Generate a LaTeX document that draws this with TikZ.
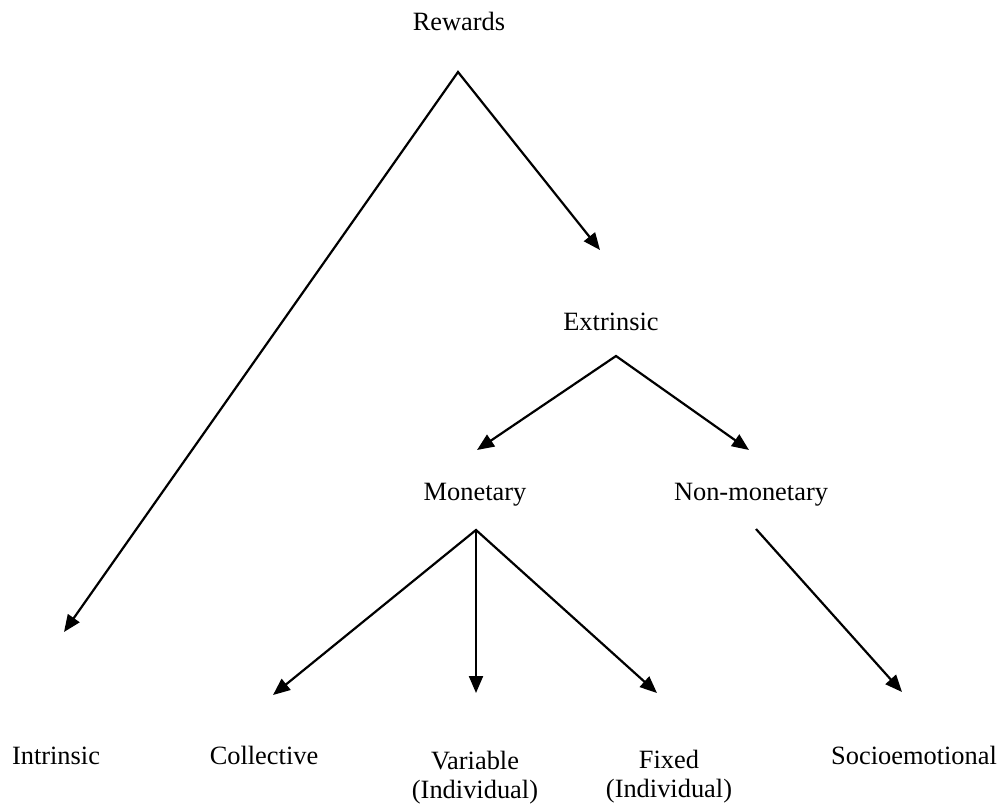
\documentclass[tikz,border=0pt]{standalone}
\usepackage{fontspec}
\setmainfont{Liberation Serif}
\usetikzlibrary{arrows.meta}
\begin{document}
\begin{tikzpicture}[x=1pt,y=-1pt,
  lbl/.style={anchor=base,inner sep=0pt,align=center,font=\fontsize{26.4}{29}\selectfont},
  conn/.style={line width=2.2pt,line join=miter},
  tipA/.style={-{Triangle[length=17pt,width=14pt]}},
  tipB/.style={{Triangle[length=17pt,width=14pt]}-{Triangle[length=17pt,width=14pt]}}]
\useasboundingbox (0,0) rectangle (1000,805);
% labels
\node[lbl] (rew) at (459,31) {Rewards};
\node[lbl] (ext) at (611,330) {Extrinsic};
\node[lbl] (mon) at (475,500) {Monetary};
\node[lbl] (non) at (751,500) {Non-monetary};
\node[lbl] (int) at (56,764) {Intrinsic};
\node[lbl] (col) at (264,764) {Collective};
\node[lbl] (var) at (475,798) {Variable\\(Individual)};
\node[lbl] (fix) at (669,797) {Fixed\\(Individual)};
\node[lbl] (soc) at (914,764) {Socioemotional};
% connector points
\coordinate (rewA) at (458,72);
\coordinate (intT) at (64,632);
\coordinate (extT) at (600,250);
\coordinate (extA) at (616,356);
\coordinate (monT) at (477,450);
\coordinate (nonT) at (749,450);
\coordinate (monA) at (476,530);
\coordinate (colT) at (273,695);
\coordinate (varT) at (476,693);
\coordinate (fixT) at (657,693);
\coordinate (nonA) at (756,529);
\coordinate (socT) at (902,692);
% connectors
\draw[conn,tipB] (intT) -- (rewA) -- (extT);
\draw[conn,tipB] (monT) -- (extA) -- (nonT);
\draw[conn,tipB] (colT) -- (monA) -- (fixT);
\draw[conn,tipA] (monA) -- (varT);
\draw[conn,tipA] (nonA) -- (socT);
\end{tikzpicture}
\end{document}
